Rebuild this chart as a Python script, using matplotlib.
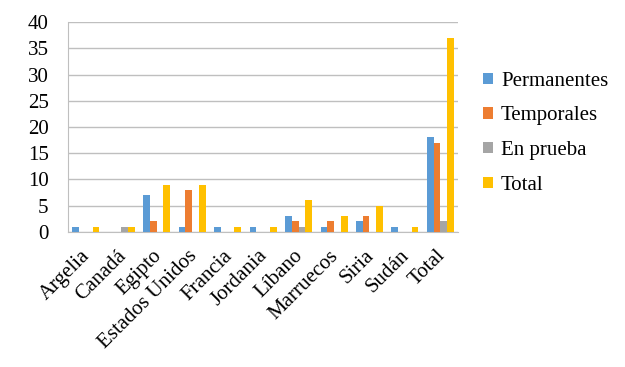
import matplotlib
matplotlib.use("Agg")
import matplotlib.pyplot as plt
import matplotlib.transforms as mtransforms
import numpy as np

categories = ["Argelia", "Canadá", "Egipto", "Estados Unidos", "Francia", "Jordania",
              "Líbano", "Marruecos", "Siria", "Sudán", "Total"]
permanentes = [1, 0, 7, 1, 1, 1, 3, 1, 2, 1, 18]
temporales = [0, 0, 2, 8, 0, 0, 2, 2, 3, 0, 17]
en_prueba = [0, 1, 0, 0, 0, 0, 1, 0, 0, 0, 2]
total = [1, 1, 9, 9, 1, 1, 6, 3, 5, 1, 37]
series_names = ["Permanentes", "Temporales", "En prueba", "Total"]
colors = ["#5B9BD5", "#ED7D31", "#A5A5A5", "#FFC000"]

plt.rcParams['font.family'] = ['Liberation Serif', 'DejaVu Serif']

fig = plt.figure(figsize=(6.25, 3.67), dpi=100)
ax = fig.add_axes([0.109, 0.368, 0.624, 0.572])

x = np.arange(len(categories))
w = 0.19
for i, (vals, name, c) in enumerate(zip([permanentes, temporales, en_prueba, total], series_names, colors)):
    ax.bar(x + (i - 1.5) * w, vals, width=w, color=c, label=name, zorder=3)

ax.set_xlim(-0.5, len(categories) - 0.5)
ax.set_ylim(0, 40)
ax.set_yticks(range(0, 41, 5))
ax.yaxis.grid(True, color="#BFBFBF", linewidth=1, zorder=0)
ax.set_xticks(x)
ax.set_xticklabels(categories, rotation=45, ha="right", rotation_mode="anchor", fontsize=15)
ax.tick_params(axis="y", labelsize=15, length=0, pad=14)
ax.tick_params(axis="x", length=0, pad=6)
offset = mtransforms.ScaledTranslation(-5 / 100, -6 / 100, fig.dpi_scale_trans)
for lbl in ax.get_xticklabels():
    lbl.set_transform(lbl.get_transform() + offset)
for s in ["top", "right"]:
    ax.spines[s].set_visible(False)
for s in ["left", "bottom"]:
    ax.spines[s].set_color("#BFBFBF")

ax.legend(loc="center left", bbox_to_anchor=(1.043, 0.47), borderaxespad=0, frameon=False, fontsize=15,
          handlelength=0.45, handleheight=0.45, labelspacing=0.75, handletextpad=0.4)

fig.savefig("out.png", dpi=100)
